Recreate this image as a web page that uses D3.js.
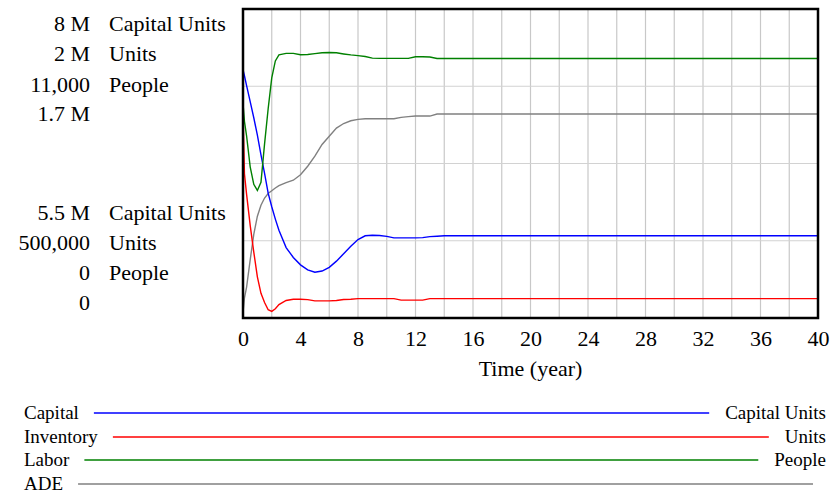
<!DOCTYPE html>
<html>
<head>
<meta charset="utf-8">
<script src="https://cdn.jsdelivr.net/npm/d3@7"></script>
<style>
  body { margin: 0; background: #fff; }
  svg text { font-family: "Liberation Serif", "Times New Roman", serif; fill: #000; }
</style>
</head>
<body>
<div id="chart"></div>
<script>
// simulation output
var years = [0, 0.1, 0.25, 0.5, 0.75, 1, 1.25, 1.5, 1.75, 2, 2.25, 2.5, 3, 3.5, 4, 4.5, 5, 5.5, 6, 6.5, 7, 7.5, 8, 8.5, 9, 9.5, 10, 10.5, 11, 11.5, 12, 12.5, 13, 13.5, 14, 20, 30, 40];

var capital = [7.51e6, 7.46e6, 7.38e6, 7.25e6, 7.12e6, 6.98e6, 6.82e6, 6.67e6, 6.51e6, 6.40e6, 6.30e6, 6.21e6, 6.07e6, 5.99e6, 5.93e6, 5.89e6, 5.87e6, 5.88e6, 5.91e6, 5.96e6, 6.02e6, 6.08e6, 6.135e6, 6.165e6, 6.17e6, 6.168e6, 6.16e6, 6.148e6, 6.148e6, 6.148e6, 6.148e6, 6.15e6, 6.158e6, 6.162e6, 6.166e6, 6.166e6, 6.166e6, 6.166e6];

var inventory = [1.50e6, 1.20e6, 1.10e6, 0.95e6, 0.82e6, 0.70e6, 0.62e6, 0.575e6, 0.54e6, 0.532e6, 0.545e6, 0.565e6, 0.585e6, 0.591e6, 0.591e6, 0.589e6, 0.583e6, 0.583e6, 0.583e6, 0.585e6, 0.59e6, 0.591e6, 0.594e6, 0.594e6, 0.594e6, 0.594e6, 0.594e6, 0.594e6, 0.587e6, 0.587e6, 0.587e6, 0.587e6, 0.594e6, 0.594e6, 0.594e6, 0.594e6, 0.594e6, 0.594e6];

var labor = [7640, 7000, 6480, 5380, 4760, 4540, 4830, 6200, 7450, 8550, 9150, 9370, 9420, 9420, 9370, 9380, 9410, 9440, 9450, 9440, 9400, 9365, 9340, 9310, 9250, 9244, 9244, 9244, 9244, 9244, 9300, 9300, 9290, 9240, 9240, 9240, 9240, 9240];

var ade = [0.03e6, 0.11e6, 0.17e6, 0.32e6, 0.46e6, 0.56e6, 0.62e6, 0.66e6, 0.685e6, 0.70e6, 0.715e6, 0.728e6, 0.745e6, 0.758e6, 0.788e6, 0.835e6, 0.89e6, 0.955e6, 1.0e6, 1.045e6, 1.07e6, 1.085e6, 1.093e6, 1.096e6, 1.096e6, 1.096e6, 1.096e6, 1.096e6, 1.104e6, 1.108e6, 1.111e6, 1.111e6, 1.111e6, 1.122e6, 1.122e6, 1.122e6, 1.122e6, 1.122e6];

var seriesNames = ["Capital", "Inventory", "Labor", "ADE"];
var seriesUnits = ["Capital Units", "Units", "People", ""];
var seriesMin = [5.5e6, 500000, 0, 0];
var seriesMax = [8e6, 2e6, 11000, 1.7e6];
var seriesColors = ["#0000ff", "#ff0000", "#008000", "#808080"];
var xTicks = [0, 4, 8, 12, 16, 20, 24, 28, 32, 36, 40];

var W = 830, H = 493;
var plotL = 243, plotR = 818, plotT = 9, plotB = 318;

var svg = d3.select('#chart').append('svg')
  .attr('width', W)
  .attr('height', H);

var x = d3.scaleLinear().domain([0, 40]).range([plotL, plotR]);

var allValues = [capital, inventory, labor, ade];
var ys = seriesMin.map(function(mn, i) {
  return d3.scaleLinear().domain([mn, seriesMax[i]]).range([plotB, plotT]);
});

// grid
var grid = svg.append('g');
grid.selectAll('line.v')
  .data(d3.range(2, 40, 2))
  .enter().append('line')
  .attr('x1', d => x(d)).attr('x2', d => x(d))
  .attr('y1', plotT).attr('y2', plotB)
  .style('stroke', '#c8c8c8')
  .style('stroke-width', 1.2);

var yGrid = d3.scaleLinear().domain([0, 4]).range([plotB, plotT]);
grid.selectAll('line.h')
  .data([1, 2, 3])
  .enter().append('line')
  .attr('x1', plotL).attr('x2', plotR)
  .attr('y1', d => yGrid(d)).attr('y2', d => yGrid(d))
  .style('stroke', '#d2d2d2')
  .style('stroke-width', 1.2);

// series lines, drawn ADE first so the coloured ones sit on top
var order = [3, 1, 0, 2];
order.forEach(function(i) {
  var line = d3.line()
    .x(function(d, k) { return x(years[k]); })
    .y(function(d) { return ys[i](d); });
  svg.append('path')
    .datum(allValues[i])
    .attr('d', line)
    .style('fill', 'none')
    .style('stroke', seriesColors[i])
    .style('stroke-width', 1.4);
});

// frame
svg.append('rect')
  .attr('x', plotL).attr('y', plotT)
  .attr('width', plotR - plotL).attr('height', plotB - plotT)
  .style('fill', 'none')
  .style('stroke', '#000')
  .style('stroke-width', 2.5);

// x axis
var xAxis = d3.axisBottom(x).tickValues(xTicks).tickSize(0).tickPadding(0);
var gx = svg.append('g')
  .attr('transform', 'translate(0,' + plotB + ')')
  .call(xAxis);
gx.select('.domain').remove();
gx.selectAll('text')
  .attr('dy', null)
  .attr('y', 28)
  .style('font-size', '22px');

svg.append('text')
  .attr('x', (plotL + plotR) / 2)
  .attr('y', 376)
  .attr('text-anchor', 'middle')
  .style('font-size', '22px')
  .text('Time (year)');

// scale labels on the left: max values up top, min values below
function fmt(v) {
  if (v >= 1e6) return d3.format('~')(v / 1e6) + ' M';
  return d3.format(',')(v);
}

var topRow = [31, 61, 92, 121];
var botRow = [220, 250, 280, 310];
var scaleLabels = svg.append('g');
seriesNames.forEach(function(n, i) {
  [[seriesMax[i], topRow[i]], [seriesMin[i], botRow[i]]].forEach(function(p) {
    scaleLabels.append('text')
      .attr('x', 90).attr('y', p[1])
      .attr('text-anchor', 'end')
      .style('font-size', '22px')
      .text(fmt(p[0]));
    if (seriesUnits[i]) {
      scaleLabels.append('text')
        .attr('x', 109).attr('y', p[1])
        .style('font-size', '22px')
        .text(seriesUnits[i]);
    }
  });
});

// legend
var legRows = [419, 443, 466, 490];
var legend = svg.append('g');
seriesNames.forEach(function(n, i) {
  var lab = legend.append('text')
    .attr('x', 24).attr('y', legRows[i])
    .style('font-size', '19px')
    .text(n);
  var x0 = 24 + lab.node().getComputedTextLength() + 15;
  var x1 = 813;
  if (seriesUnits[i]) {
    var u = legend.append('text')
      .attr('x', 826).attr('y', legRows[i])
      .attr('text-anchor', 'end')
      .style('font-size', '19px')
      .text(seriesUnits[i]);
    x1 = 826 - u.node().getComputedTextLength() - 16;
  }
  legend.append('line')
    .attr('x1', x0).attr('x2', x1)
    .attr('y1', legRows[i] - 6).attr('y2', legRows[i] - 6)
    .style('stroke', seriesColors[i])
    .style('stroke-width', 1.6);
});
</script>
</body>
</html>
